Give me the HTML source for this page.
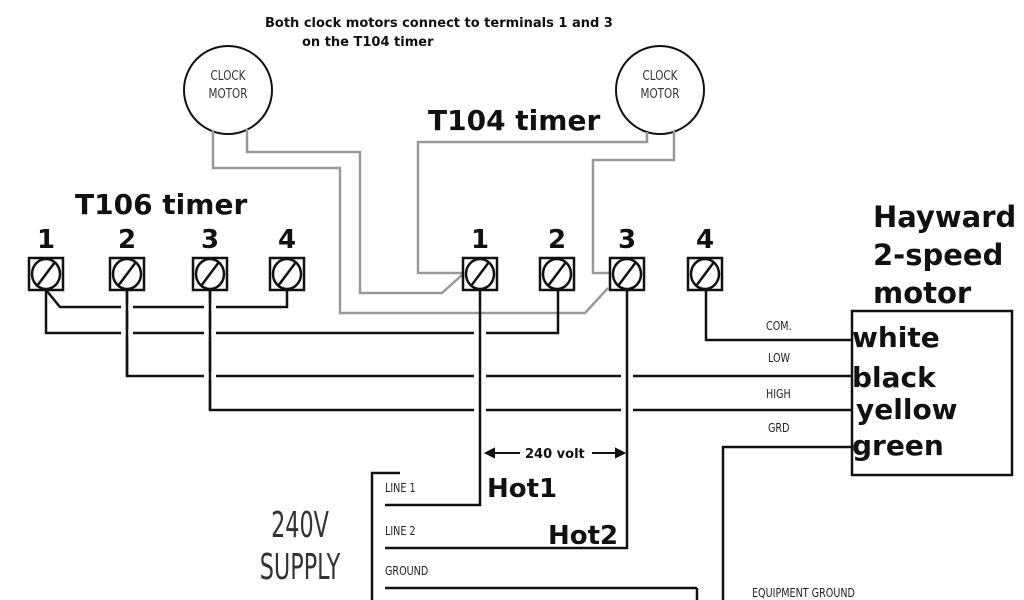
<!DOCTYPE html>
<html><head><meta charset="utf-8"><style>
html,body{margin:0;padding:0;background:#fff;}
svg{display:block;}
text{font-family:"DejaVu Sans","Liberation Sans",sans-serif;}
.b{font-weight:bold;fill:#111;}
.s{font-family:"Liberation Sans",sans-serif;font-size:12px;fill:#222;}
</style></head><body>
<svg width="1024" height="600" viewBox="0 0 1024 600" xmlns="http://www.w3.org/2000/svg">
<rect width="1024" height="600" fill="#fff"/>
<text x="265" y="27" class="b" font-size="13">Both clock motors connect to terminals 1 and 3</text>
<text x="302" y="46" class="b" font-size="13">on the T104 timer</text>
<circle cx="228" cy="90" r="44" fill="none" stroke="#111" stroke-width="2"/>
<circle cx="660" cy="90" r="44" fill="none" stroke="#111" stroke-width="2"/>
<g font-family="Liberation Sans,sans-serif" font-size="13" fill="#333" text-anchor="middle">
<text x="228" y="80" transform="translate(228 0) scale(0.8 1) translate(-228 0)">CLOCK</text>
<text x="228" y="98" transform="translate(228 0) scale(0.8 1) translate(-228 0)">MOTOR</text>
<text x="660" y="80" transform="translate(660 0) scale(0.8 1) translate(-660 0)">CLOCK</text>
<text x="660" y="98" transform="translate(660 0) scale(0.8 1) translate(-660 0)">MOTOR</text>
</g>
<g fill="none" stroke="#999" stroke-width="2.5">
<polyline points="213,130 213,168 340,168 340,313 585,313 608,288"/>
<polyline points="247,129 247,152 360,152 360,293 442,293 463,274"/>
<polyline points="647,132 647,142 418,142 418,273 463,273"/>
<polyline points="674,131 674,160 593,160 593,273 611,273"/>
</g>
<text x="428" y="130" class="b" font-size="28">T104 timer</text>
<text x="75" y="214" class="b" font-size="28">T106 timer</text>
<g class="b" font-size="26" text-anchor="middle">
<text x="46" y="248">1</text><text x="127" y="248">2</text><text x="210" y="248">3</text><text x="287" y="248">4</text>
<text x="480" y="248">1</text><text x="557" y="248">2</text><text x="627" y="248">3</text><text x="705" y="248">4</text>
</g>
<text x="873" y="227" class="b" font-size="29">Hayward</text>
<text x="873" y="265" class="b" font-size="29">2-speed</text>
<text x="873" y="303" class="b" font-size="29">motor</text>
<g fill="none" stroke="#111" stroke-width="2.5">
<polyline points="46,290 60,307 287,307 287,290"/>
<polyline points="46,290 46,333 558,333 558,290"/>
<polyline points="127,290 127,376 852,376"/>
<polyline points="210,290 210,410 852,410"/>
<polyline points="706,290 706,340 852,340"/>
<polyline points="852,447 723,447 723,600"/>
<rect x="852" y="311" width="160" height="164"/>
<polyline points="400,473 372,473 372,600"/>
<line x1="385" y1="588" x2="697" y2="588"/>
<line x1="697" y1="588" x2="697" y2="600"/>
</g>
<g fill="#fff">
<rect x="121" y="303" width="12" height="8"/>
<rect x="204" y="303" width="12" height="8"/>
<rect x="121" y="329" width="12" height="8"/>
<rect x="204" y="329" width="12" height="8"/>
<rect x="474" y="329" width="12" height="8"/>
<rect x="204" y="372" width="12" height="8"/>
<rect x="474" y="372" width="12" height="8"/>
<rect x="621" y="372" width="12" height="8"/>
<rect x="474" y="406" width="12" height="8"/>
<rect x="621" y="406" width="12" height="8"/>
</g>
<g fill="none" stroke="#111" stroke-width="2.5">
<line x1="127" y1="290" x2="127" y2="376"/>
<line x1="210" y1="290" x2="210" y2="410"/>
<polyline points="480,290 480,505 385,505"/>
<polyline points="627,290 627,548 385,548"/>
</g>
<g fill="#fff" stroke="#111" stroke-width="2.5">
<g transform="translate(46,274)"><rect x="-17" y="-16" width="34" height="32"/><ellipse rx="14" ry="15"/><line x1="-9" y1="12" x2="9" y2="-12"/></g>
<g transform="translate(127,274)"><rect x="-17" y="-16" width="34" height="32"/><ellipse rx="14" ry="15"/><line x1="-9" y1="12" x2="9" y2="-12"/></g>
<g transform="translate(210,274)"><rect x="-17" y="-16" width="34" height="32"/><ellipse rx="14" ry="15"/><line x1="-9" y1="12" x2="9" y2="-12"/></g>
<g transform="translate(287,274)"><rect x="-17" y="-16" width="34" height="32"/><ellipse rx="14" ry="15"/><line x1="-9" y1="12" x2="9" y2="-12"/></g>
<g transform="translate(480,274)"><rect x="-17" y="-16" width="34" height="32"/><ellipse rx="14" ry="15"/><line x1="-9" y1="12" x2="9" y2="-12"/></g>
<g transform="translate(557,274)"><rect x="-17" y="-16" width="34" height="32"/><ellipse rx="14" ry="15"/><line x1="-9" y1="12" x2="9" y2="-12"/></g>
<g transform="translate(627,274)"><rect x="-17" y="-16" width="34" height="32"/><ellipse rx="14" ry="15"/><line x1="-9" y1="12" x2="9" y2="-12"/></g>
<g transform="translate(705,274)"><rect x="-17" y="-16" width="34" height="32"/><ellipse rx="14" ry="15"/><line x1="-9" y1="12" x2="9" y2="-12"/></g>
</g>
<g class="s" font-size="12">
<text x="766" y="330" transform="translate(766 0) scale(0.8 1) translate(-766 0)">COM.</text>
<text x="768" y="362" transform="translate(768 0) scale(0.8 1) translate(-768 0)">LOW</text>
<text x="766" y="398" transform="translate(766 0) scale(0.8 1) translate(-766 0)">HIGH</text>
<text x="768" y="432" transform="translate(768 0) scale(0.8 1) translate(-768 0)">GRD</text>
<text x="385" y="492" transform="translate(385 0) scale(0.8 1) translate(-385 0)">LINE 1</text>
<text x="385" y="535" transform="translate(385 0) scale(0.8 1) translate(-385 0)">LINE 2</text>
<text x="385" y="575" transform="translate(385 0) scale(0.8 1) translate(-385 0)">GROUND</text>
<text x="752" y="597" transform="translate(752 0) scale(0.8 1) translate(-752 0)">EQUIPMENT GROUND</text>
</g>
<g class="b" font-size="28">
<text x="852" y="347">white</text>
<text x="852" y="387">black</text>
<text x="856" y="419">yellow</text>
<text x="852" y="455">green</text>
<text x="487" y="497" font-size="26">Hot1</text>
<text x="548" y="544" font-size="26">Hot2</text>
</g>
<g stroke="#111" stroke-width="2" fill="#111">
<line x1="490" y1="453" x2="520" y2="453"/><polygon points="486,453 494,449 494,457"/>
<line x1="592" y1="453" x2="620" y2="453"/><polygon points="624,453 616,449 616,457"/>
</g>
<text x="525" y="458" class="b" font-size="13">240 volt</text>
<g font-family="Liberation Sans,sans-serif" font-size="36" fill="#333" text-anchor="middle">
<text x="300" y="537" transform="translate(300 0) scale(0.62 1) translate(-300 0)">240V</text>
<text x="300" y="579" transform="translate(300 0) scale(0.62 1) translate(-300 0)">SUPPLY</text>
</g>
</svg>
</body></html>
